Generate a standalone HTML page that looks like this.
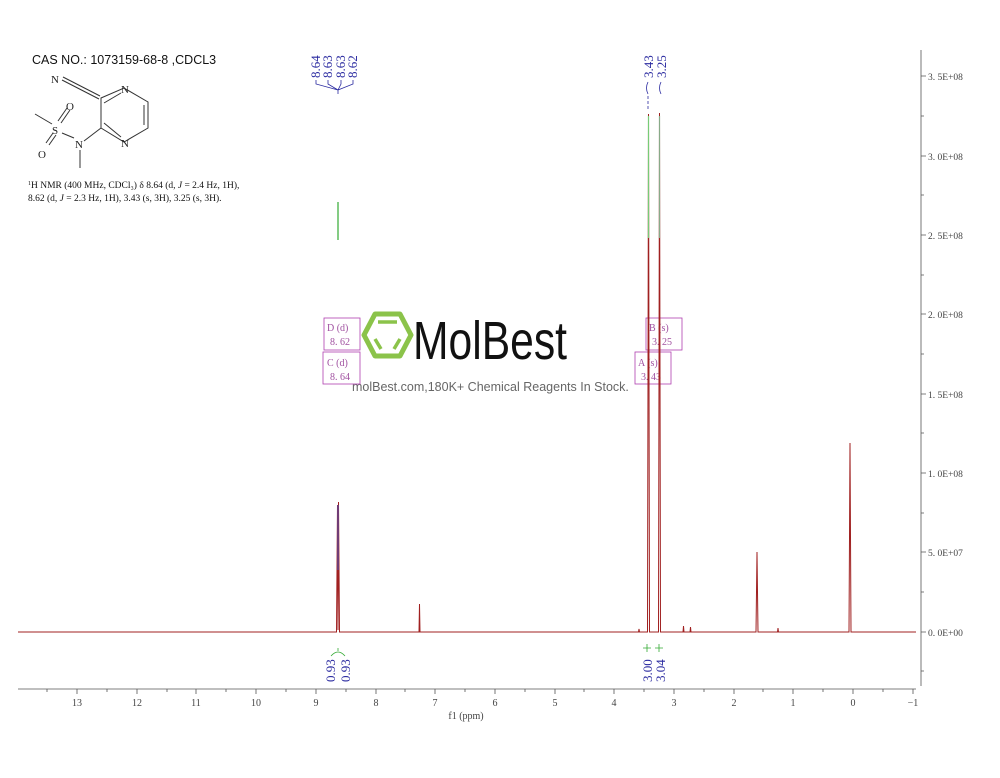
<!DOCTYPE html>
<html><head><meta charset="utf-8"><style>
html,body{margin:0;padding:0;background:#fff;}
svg text{font-family:"Liberation Serif","Noto Serif CJK SC",serif;}
.s{font-family:"Liberation Sans",sans-serif;}
</style></head><body>
<svg width="1000" height="773" viewBox="0 0 1000 773" xmlns="http://www.w3.org/2000/svg">
<rect width="1000" height="773" fill="#fff"/>
<text x="32" y="64" class="s" font-family="Liberation Sans" font-size="12.5" fill="#111">CAS NO.: 1073159-68-8 ,CDCL3</text>
<g stroke="#333" stroke-width="1" fill="none">
<line x1="63" y1="77" x2="100" y2="96"/><line x1="62" y1="80" x2="99" y2="99"/>
<polygon points="101,98 124,88 148,102 148,128 124,142 101,128"/>
<line x1="104" y1="103" x2="121" y2="93"/><line x1="104" y1="123" x2="121" y2="137"/><line x1="144" y1="105" x2="144" y2="125"/>
<line x1="101" y1="128" x2="84" y2="141"/><line x1="80" y1="150" x2="80" y2="168"/>
<line x1="74" y1="138" x2="62" y2="133"/><line x1="52" y1="124" x2="35" y2="114"/>
<line x1="58" y1="121" x2="67" y2="108"/><line x1="61" y1="123" x2="70" y2="110"/>
<line x1="53" y1="133" x2="46" y2="143"/><line x1="56" y1="135" x2="49" y2="145"/>
</g>
<g class="s" font-family="Liberation Sans" font-size="11" fill="#222">
<text x="51" y="83">N</text><text x="121" y="93">N</text><text x="121" y="147">N</text>
<text x="52" y="134">S</text><text x="66" y="110">O</text><text x="38" y="158">O</text><text x="75" y="148">N</text>
</g>
<text x="28" y="188" font-size="9.5" fill="#111"><tspan font-size="6" dy="-3">1</tspan><tspan dy="3">H NMR (400 MHz, CDCl₃) δ 8.64 (d, </tspan><tspan font-style="italic">J</tspan> = 2.4 Hz, 1H),</text>
<text x="28" y="201" font-size="9.5" fill="#111">8.62 (d, <tspan font-style="italic">J</tspan> = 2.3 Hz, 1H), 3.43 (s, 3H), 3.25 (s, 3H).</text>
<g fill="#2a2aa0" font-size="13">
<text transform="translate(320,78) rotate(-90)">8.64</text>
<text transform="translate(332,78) rotate(-90)">8.63</text>
<text transform="translate(345,78) rotate(-90)">8.63</text>
<text transform="translate(357,78) rotate(-90)">8.62</text>
<text transform="translate(653,78) rotate(-90)">3.43</text>
<text transform="translate(666,78) rotate(-90)">3.25</text>
</g>
<g stroke="#2a2aa0" fill="none" stroke-width="0.8">
<path d="M316,80 v4 L338,90 M328,80 v4 L338,90 M341,80 v4 L338,90 M353,80 v4 L338,90 M338,90 v4"/>
<path d="M648,82 q-3,6 0,12 M661,82 q-3,6 0,12"/>
<line x1="648" y1="96" x2="648" y2="110" stroke-dasharray="3,2"/>
</g>
<line x1="338" y1="202" x2="338" y2="240" stroke="#3a3" stroke-width="1.2"/>
<!-- watermark -->
<g stroke="#8bc34a" stroke-width="5" fill="none" stroke-linejoin="round">
<polygon points="364,335 375,314 400,314 411,335 400,356 375,356"/>
<line x1="378" y1="322" x2="397" y2="322" stroke-width="3.5"/>
<line x1="375" y1="339" x2="381" y2="349" stroke-width="3.5"/>
<line x1="400" y1="339" x2="394" y2="349" stroke-width="3.5"/>
</g>
<text x="413" y="359" class="s" font-family="Liberation Sans" font-size="54" fill="#111" textLength="154" lengthAdjust="spacingAndGlyphs">MolBest</text>
<text x="352" y="391" class="s" font-family="Liberation Sans" font-size="12.5" fill="#666">molBest.com,180K+ Chemical Reagents In Stock.</text>
<g fill="none" stroke="#b040b0" stroke-width="0.8">
<rect x="324" y="318" width="36" height="32"/><rect x="323" y="352" width="37" height="32"/>
<rect x="646" y="318" width="36" height="32"/><rect x="635" y="352" width="36" height="32"/>
</g>
<g fill="#a050a0" font-size="10" font-family="Liberation Mono">
<text x="327" y="331">D (d)</text><text x="330" y="345">8. 62</text>
<text x="327" y="366">C (d)</text><text x="330" y="380">8. 64</text>
<text x="649" y="331">B (s)</text><text x="652" y="345">3. 25</text>
<text x="638" y="366">A (s)</text><text x="641" y="380">3. 43</text>
</g>
<g stroke="#555" stroke-width="0.8">
<line x1="921" y1="50" x2="921" y2="686"/>
<path d="M921,76h5M921,156h5M921,235h5M921,314h5M921,394h5M921,473h5M921,552h5M921,632h5M921,116h3M921,195h3M921,275h3M921,354h3M921,433h3M921,513h3M921,592h3M921,671h3"/>
</g>
<g fill="#444" font-size="9.5">
<text x="928" y="80">3. 5E+08</text><text x="928" y="160">3. 0E+08</text>
<text x="928" y="239">2. 5E+08</text><text x="928" y="318">2. 0E+08</text>
<text x="928" y="398">1. 5E+08</text><text x="928" y="477">1. 0E+08</text>
<text x="928" y="556">5. 0E+07</text><text x="928" y="636">0. 0E+00</text>
</g>
<line x1="18" y1="689" x2="916" y2="689" stroke="#555" stroke-width="0.8"/>
<g stroke="#555" stroke-width="0.8">
<path d="M77,689v5M137,689v5M196,689v5M256,689v5M316,689v5M376,689v5M435,689v5M495,689v5M555,689v5M614,689v5M674,689v5M734,689v5M793,689v5M853,689v5M913,689v5
M47,689v3M107,689v3M167,689v3M226,689v3M286,689v3M346,689v3M405,689v3M465,689v3M525,689v3M584,689v3M644,689v3M704,689v3M763,689v3M823,689v3M883,689v3"/>
</g>
<g fill="#444" font-size="10" text-anchor="middle">
<text x="77" y="706">13</text><text x="137" y="706">12</text><text x="196" y="706">11</text><text x="256" y="706">10</text>
<text x="316" y="706">9</text><text x="376" y="706">8</text><text x="435" y="706">7</text><text x="495" y="706">6</text>
<text x="555" y="706">5</text><text x="614" y="706">4</text><text x="674" y="706">3</text><text x="734" y="706">2</text>
<text x="793" y="706">1</text><text x="853" y="706">0</text><text x="913" y="706">−1</text>
<text x="466" y="719">f1 (ppm)</text>
</g>
<g fill="#2a2aa0" font-size="13">
<text transform="translate(335,682) rotate(-90)">0.93</text>
<text transform="translate(350,682) rotate(-90)">0.93</text>
<text transform="translate(652,682) rotate(-90)">3.00</text>
<text transform="translate(665,682) rotate(-90)">3.04</text>
</g>
<g stroke="#3a3" fill="none" stroke-width="0.8">
<path d="M331,656 q7,-8 14,0 M338,648 v3"/>
<path d="M643,648 h8 M647,644 v8 M655,648 h8 M659,644 v8"/>
</g>
<g fill="none" stroke="#a02020" stroke-width="1">
<path d="M18,632 H336.5 L337.5,505 L338,630 L338.5,502 L339.5,632 H419 L419.5,604 L420,632 H638.5 L639,629 L639.5,632 H647.5 L648.5,114 L649.5,632 H658.5 L659.5,113 L660.5,632 H683 L683.5,626 L684,632 H690 L690.5,627 L691,632 H756 L757,552 L758,632 H777.5 L778,628 L778.5,632 H849 L850,443 L851,632 H916"/>
</g>
<line x1="648.5" y1="116" x2="648.5" y2="238" stroke="#7c7" stroke-width="1.2"/>
<line x1="659.5" y1="116" x2="659.5" y2="238" stroke="#8a8" stroke-width="1.2"/>
<line x1="338" y1="505" x2="338" y2="570" stroke="#5050b0" stroke-width="1.2"/>
</svg>
</body></html>
